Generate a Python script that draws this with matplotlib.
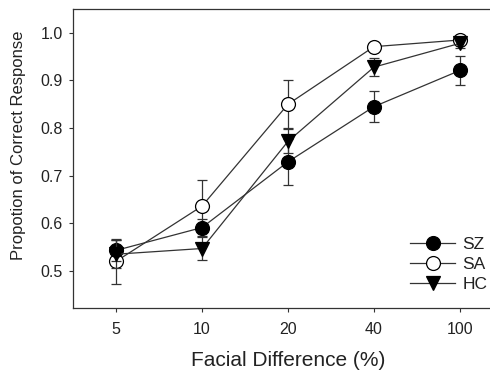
import numpy as np
import matplotlib
matplotlib.use('Agg')
import matplotlib.pyplot as plt
from matplotlib.lines import Line2D

plt.rcParams['font.family'] = ['Liberation Sans', 'DejaVu Sans']

diff_labels = ['5', '10', '20', '40', '100']

sz_mean = [0.543, 0.591, 0.729, 0.845, 0.921]
sz_err = [0.022, 0.018, 0.048, 0.033, 0.031]
sa_mean = [0.520, 0.636, 0.850, 0.971, 0.985]
sa_err = [0.047, 0.054, 0.050, 0.004, 0.004]
hc_mean = [0.535, 0.547, 0.772, 0.928, 0.978]
hc_err = [0.030, 0.025, 0.025, 0.019, 0.010]

x = np.arange(len(diff_labels))
txt = '#222222'

fig = plt.figure(figsize=(4.9, 3.77), dpi=100)
ax = fig.add_axes([0.149, 0.183, 0.851, 0.793])

common = dict(color='#333333', lw=0.9, ms=10, elinewidth=0.9, capsize=3.5,
              capthick=0.9, markeredgecolor='black', markeredgewidth=0.9)
ax.errorbar(x, sa_mean, yerr=sa_err, marker='o', mfc='white', zorder=2, **common)
ax.errorbar(x, sz_mean, yerr=sz_err, marker='o', mfc='black', zorder=3, **common)
ax.errorbar(x, hc_mean, yerr=hc_err, marker='v', mfc='black', zorder=4, **common)

ax.set_xlim(-0.5, 4.35)
ax.set_ylim(0.422, 1.05)
ax.set_xticks(x)
ax.set_xticklabels(diff_labels)
ax.set_yticks([0.5, 0.6, 0.7, 0.8, 0.9, 1.0])
ax.tick_params(direction='out', length=3, width=0.8, labelsize=11.5, colors='#333333', labelcolor=txt)
ax.tick_params(axis='x', pad=7)
ax.tick_params(axis='y', pad=4.5)
for s in ax.spines.values():
    s.set_linewidth(0.9)
    s.set_color('#333333')
ax.spines['right'].set_visible(False)

ax.set_xlabel('Facial Difference (%)', fontsize=15, color=txt)
ax.set_ylabel('Propotion of Correct Response', fontsize=12, color=txt)
ax.xaxis.set_label_coords(0.517, -0.144)
ax.yaxis.set_label_coords(-0.112, 0.545)

lk = dict(color='#333333', lw=0.9, ms=10, markeredgecolor='black', markeredgewidth=0.9)
handles = [Line2D([], [], marker='o', mfc='black', **lk),
           Line2D([], [], marker='o', mfc='white', **lk),
           Line2D([], [], marker='v', mfc='black', **lk)]
ax.legend(handles, ['SZ', 'SA', 'HC'], loc='lower right', bbox_to_anchor=(1.031, 0.0),
          frameon=False, fontsize=12.5, handlelength=2.6, handletextpad=0.4,
          labelspacing=0.3, labelcolor=txt)

fig.savefig('out.png', dpi=100)
